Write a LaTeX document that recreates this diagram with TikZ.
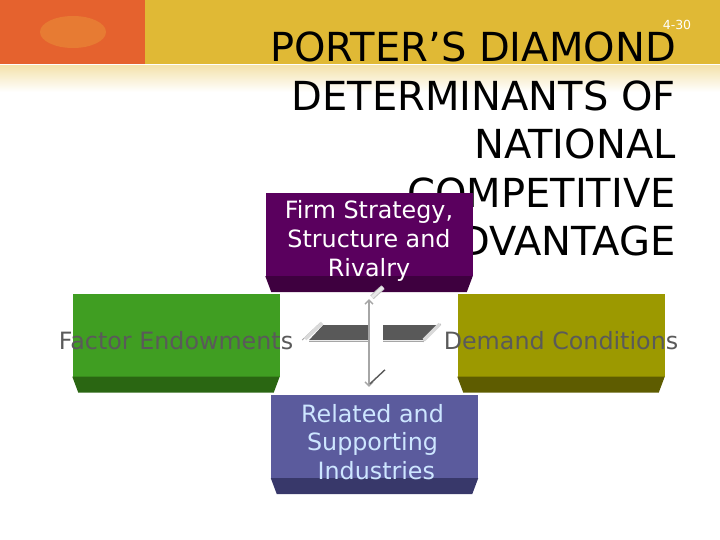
\documentclass[tikz,border=0pt]{standalone}
\usepackage{fontspec}
\setmainfont{DejaVu Sans}
\usetikzlibrary{arrows.meta,calc}
\definecolor{headorange}{RGB}{229,98,46}
\definecolor{headoval}{RGB}{231,123,51}
\definecolor{headgold}{RGB}{224,185,53}
\definecolor{fadegold}{RGB}{244,227,174}
\definecolor{firmface}{RGB}{90,0,94}
\definecolor{firmedge}{RGB}{62,0,63}
\definecolor{factface}{RGB}{64,158,34}
\definecolor{factedge}{RGB}{42,102,18}
\definecolor{demface}{RGB}{156,153,0}
\definecolor{demedge}{RGB}{94,92,0}
\definecolor{relface}{RGB}{91,91,157}
\definecolor{reledge}{RGB}{56,56,106}
\definecolor{labgray}{RGB}{90,90,90}
\definecolor{labblue}{RGB}{205,230,255}
\definecolor{linkgray}{RGB}{166,166,166}
\definecolor{bardark}{RGB}{89,89,89}
\definecolor{barlight}{RGB}{217,217,217}
\tikzset{
  face/.style={inner sep=0pt, minimum width=207pt, minimum height=83pt},
  lbl/.style={inner sep=0pt, align=center, font=\fontsize{23.8}{28.6}\selectfont},
  vlink/.style={draw=linkgray, line width=1.4pt,
                {Straight Barb[length=4pt,width=8pt]}-{Straight Barb[length=4pt,width=8pt]}},
  barpart/.style={fill=bardark},
  barend/.style={draw=barlight, line width=3.5pt},
  barline/.style={draw=linkgray, line width=0.8pt},
}
\newcommand\boxbevel[2]{%
  \fill[#2] (#1.south west) -- (#1.south east) -- ++(-6,16) -- ($(#1.south west)+(6,16)$) -- cycle;}

\begin{document}
\begin{tikzpicture}[x=1pt,y=-1pt]
  \useasboundingbox (0,0) rectangle (720,540);
  % header band
  \fill[headorange] (0,0) rectangle (145,64);
  \fill[headoval] (73,32) ellipse (33 and 16);
  \fill[headgold] (145,0) rectangle (720,64);
  \shade[top color=fadegold, bottom color=white] (0,66) rectangle (720,92);
  \node[text=white, inner sep=0pt, font=\fontsize{12.5}{15}\selectfont] (slide) at (677,24.5) {4-30};
  \node[anchor=north east, inner sep=0pt, align=right, font=\fontsize{40}{48.5}\selectfont] (title) at (676,32)
    {PORTER’S DIAMOND\\DETERMINANTS OF\\NATIONAL\\COMPETITIVE\\ADVANTAGE};
  % the four blocks
  \node[face, fill=firmface] (firm) at (369,234.5) {};
  \boxbevel{firm}{firmedge}
  \node[face, fill=factface] (factor) at (176,335) {};
  \boxbevel{factor}{factedge}
  \node[face, fill=demface] (demand) at (561,335) {};
  \boxbevel{demand}{demedge}
  \node[face, fill=relface] (related) at (374.5,436.5) {};
  \boxbevel{related}{reledge}
  \node[lbl, text=white] (firmtext) at ($(firm.center)+(0,6.5)$) {Firm Strategy,\\Structure and\\Rivalry};
  \node[lbl, text=labgray] (facttext) at ($(factor.center)+(0,6)$) {Factor Endowments};
  \node[lbl, text=labgray] (demtext) at ($(demand.center)+(0,6)$) {Demand Conditions};
  \node[lbl, text=labblue] (reltext) at ($(related.center)+(-2,5.5)$) {Related and\\Supporting\\\ Industries};
  % links between the blocks
  \coordinate (hub) at (firm.south |- factor.east);
  \coordinate (hw) at ($(factor.east)+(29.5,5)$);
  \coordinate (he) at ($(demand.west)+(-34.5,5)$);
  \fill[barpart] (hw) -- ++(14,-15) -- ($(hub)+(-1,-10)$) -- ($(hub)+(-1,5)$) -- cycle;
  \fill[barpart] ($(hub)+(14,5)$) -- ($(hub)+(14,-10)$) -- ($(he)+(14,-15)$) -- (he) -- cycle;
  \draw[barline] ($(hw)+(0,1)$) -- ($(hub)+(-1,6)$);
  \draw[barline] ($(hub)+(14,6)$) -- ($(he)+(0,1)$);
  \draw[barline] ($(hw)+(-7,0)$) -- ++(18,-17);
  \draw[barend] ($(hw)+(-4,-1)$) -- ++(17,-16);
  \draw[barline] ($(he)+(0,2)$) -- ++(18,-18);
  \draw[barend] ($(he)+(1,0)$) -- ++(16,-16);
  \draw[vlink, shorten <=23pt, shorten >=8pt] (firm.south) -- (firm.south |- related.north);
  \draw[line width=5pt, draw=linkgray!70] ($(firm.south)+(3,21)$) -- ++(11,-10);
  \draw[line width=3pt, draw=barlight!60] ($(firm.south)+(3,21)$) -- ++(11,-10);
  \draw[line width=1.4pt, draw=bardark] ($(firm.south |- related.north)+(1,-11)$) -- ++(15,-14);
\end{tikzpicture}
\end{document}
